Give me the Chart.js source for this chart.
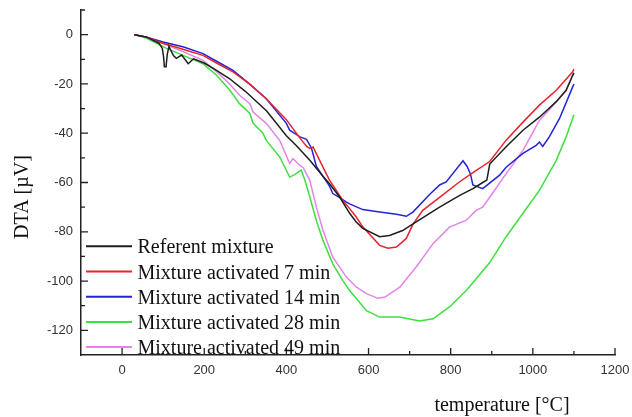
<!DOCTYPE html>
<html><head><meta charset="utf-8">
<script src="https://cdn.jsdelivr.net/npm/chart.js@4/dist/chart.umd.min.js"></script>
<style>html,body{margin:0;padding:0;background:#fff}canvas{display:block}</style>
</head><body>
<canvas id="c" width="632" height="417"></canvas>
<script>
const seriesLabels = ['Referent mixture','Mixture activated 7 min','Mixture activated 14 min','Mixture activated 28 min','Mixture activated 49 min'];
const seriesColors = ['#1e1e1e','#e8242a','#2323d8','#3ee03e','#e384ea'];

const tBlack = [30,60,90,98,101,103,107,110,114,125,132,145,161,174,200,230,262,300,352,400,424,457,489,505,530,554,570,586,627,651,683,716,748,773,821,854,878,888,895,935,976,1016,1057,1081,1097,1100];
const vBlack = [0,-1,-3.5,-5.6,-9,-13,-13,-8,-4.8,-8.5,-9.6,-8.3,-11.8,-9.8,-11.5,-14.5,-17.9,-23,-31,-41,-45,-51,-57.5,-60.5,-66,-72.5,-76,-78.6,-82,-81.5,-79.5,-76,-72.6,-70,-65.3,-62.5,-60,-59,-52.5,-45.5,-38.8,-33.5,-27.2,-22.6,-16.5,-15.5];

const tRed = [30,60,90,116,150,197,230,270,310,351,400,433,450,457,465,472,481,497,505,537,554,570,586,627,647,668,692,708,732,773,821,854,895,935,976,1016,1057,1097,1100];
const vRed = [0,-1,-3,-4.3,-6,-8.4,-11.5,-15.1,-20,-26,-34.5,-42,-45.5,-46.2,-45.6,-48,-51,-56.4,-59,-67.2,-70.6,-74,-78,-85.5,-86.7,-86.2,-82.7,-77,-71.3,-66,-59.8,-56,-51.5,-42.8,-35.5,-28.6,-22.6,-15.1,-14];

const tBlue = [30,60,100,150,197,230,270,310,351,400,408,424,433,449,461,473,481,505,513,529,546,554,586,627,668,692,708,748,773,789,830,840,848,854,878,919,935,975,1008,1016,1024,1040,1065,1097,1100];
const vBlue = [0,-1,-3,-5,-7.7,-10.8,-14.5,-20,-26,-36,-38.8,-40.5,-41.5,-42.5,-46,-53.5,-55.5,-61.5,-64.5,-66,-68,-68.7,-71,-72,-72.9,-73.7,-72,-65,-61,-59.8,-51.2,-53.5,-56.5,-61,-62.5,-57,-53.8,-48.3,-44.9,-43.6,-45.4,-41.5,-34,-21.2,-20];

const tGreen = [30,60,90,108,150,197,230,262,286,311,319,343,351,384,408,420,436,445,457,473,489,513,537,554,595,627,676,724,757,797,838,895,935,976,1016,1057,1081,1100];
const vGreen = [0,-1.5,-4,-5.6,-8.5,-11.8,-16.5,-22.5,-28,-32,-36,-40,-42.9,-49.7,-57.8,-56.8,-55,-59,-65.9,-75.4,-83.5,-93,-99.7,-103.8,-112,-114.6,-114.6,-116.2,-115.3,-110.5,-103.8,-92.5,-82,-72.5,-63.2,-51,-41.5,-32.5];

const tPink = [30,60,90,150,197,230,262,286,311,319,351,384,408,416,433,441,457,473,489,513,546,570,595,623,640,676,716,757,797,838,862,878,895,935,976,1016,1040,1057,1081,1097,1100];
const vPink = [0,-1,-3,-7,-10.4,-15,-20,-24.6,-28,-31.4,-36,-43,-52.3,-50.3,-53,-54,-59.1,-70,-79.4,-90.3,-98.4,-102.4,-105.1,-107,-106.5,-102.5,-94.3,-84.8,-78.1,-75.3,-71.3,-70,-66,-56.4,-47,-34.8,-30.5,-27.2,-22.6,-16.5,-15.5];

const xTicks = [0,200,400,600,800,1000,1200];
const xMinorTicks = [100,300,500,700,900,1100];
const yTicks = [0,-20,-40,-60,-80,-100,-120];
const yMinorTicks = [10,-10,-30,-50,-70,-90,-110];
const xTitle = 'temperature [°C]';
const yTitle = 'DTA [µV]';

const temps = [tBlack,tRed,tBlue,tGreen,tPink];
const vals = [vBlack,vRed,vBlue,vGreen,vPink];

const datasets = seriesLabels.map((lab,i)=>({
  label: lab,
  data: temps[i].map((t,k)=>({x:t, y:vals[i][k]})),
  borderColor: seriesColors[i],
  backgroundColor: seriesColors[i],
  borderWidth: 1.5,
  pointRadius: 0,
  tension: 0,
  fill: false
}));

const decor = {
  id: 'decor',
  afterDraw(chart){
    const {ctx, chartArea:a, scales:{x,y}} = chart;
    ctx.save();
    ctx.strokeStyle = '#222';
    ctx.lineWidth = 1.3;
    ctx.beginPath();
    xTicks.forEach(v=>{const p=x.getPixelForValue(v); ctx.moveTo(p,a.bottom); ctx.lineTo(p,a.bottom-7);});
    xMinorTicks.forEach(v=>{const p=x.getPixelForValue(v); ctx.moveTo(p,a.bottom); ctx.lineTo(p,a.bottom-4);});
    yTicks.forEach(v=>{const p=y.getPixelForValue(v); ctx.moveTo(a.left,p); ctx.lineTo(a.left+7,p);});
    yMinorTicks.forEach(v=>{const p=y.getPixelForValue(v); ctx.moveTo(a.left,p); ctx.lineTo(a.left+4,p);});
    ctx.stroke();

    ctx.fillStyle = '#111';
    ctx.font = '20px "Liberation Serif", "Times New Roman", serif';
    ctx.textAlign = 'center';
    ctx.textBaseline = 'alphabetic';
    ctx.fillText(xTitle, 502, 411);
    ctx.save();
    ctx.translate(28, 197);
    ctx.rotate(-Math.PI/2);
    ctx.fillText(yTitle, 0, 0);
    ctx.restore();

    // legend
    ctx.textAlign = 'left';
    chart.data.datasets.forEach((ds,i)=>{
      const yy = 246.3 + i*25.2;
      ctx.strokeStyle = ds.borderColor;
      ctx.lineWidth = 2;
      ctx.beginPath();
      ctx.moveTo(86, yy); ctx.lineTo(132, yy);
      ctx.stroke();
      ctx.fillStyle = '#111';
      ctx.fillText(ds.label, 137.5, yy + 7);
    });
    ctx.restore();
  }
};

new Chart(document.getElementById('c'), {
  type: 'line',
  data: { datasets },
  options: {
    responsive: false,
    devicePixelRatio: 1,
    animation: false,
    layout: { padding: { top: 10, right: 17, left: 0, bottom: 0 } },
    plugins: { legend: { display: false }, tooltip: { enabled: false } },
    scales: {
      x: {
        type: 'linear', min: -100, max: 1200,
        grid: { display: false, drawTicks: false },
        border: { display: true, color: '#222', width: 1.5 },
        ticks: { color: '#333', padding: 8, autoSkip: false, maxRotation: 0,
                 callback: v => String(v),
                 font: { family: '"Liberation Sans", Arial, sans-serif', size: 13 } },
        afterBuildTicks: s => { s.ticks = xTicks.map(v=>({value:v})); },
        afterFit: s => { s.height = 62; s.paddingLeft = 0; s.paddingRight = 0; }
      },
      y: {
        type: 'linear', min: -130, max: 10,
        grid: { display: false, drawTicks: false },
        border: { display: true, color: '#222', width: 1.5 },
        ticks: { color: '#333', padding: 8, autoSkip: false,
                 callback: v => String(v),
                 font: { family: '"Liberation Sans", Arial, sans-serif', size: 13 } },
        afterBuildTicks: s => { s.ticks = yTicks.map(v=>({value:v})); },
        afterFit: s => { s.width = 81; s.paddingTop = 0; s.paddingBottom = 0; }
      }
    }
  },
  plugins: [decor]
});
</script>
</body></html>
